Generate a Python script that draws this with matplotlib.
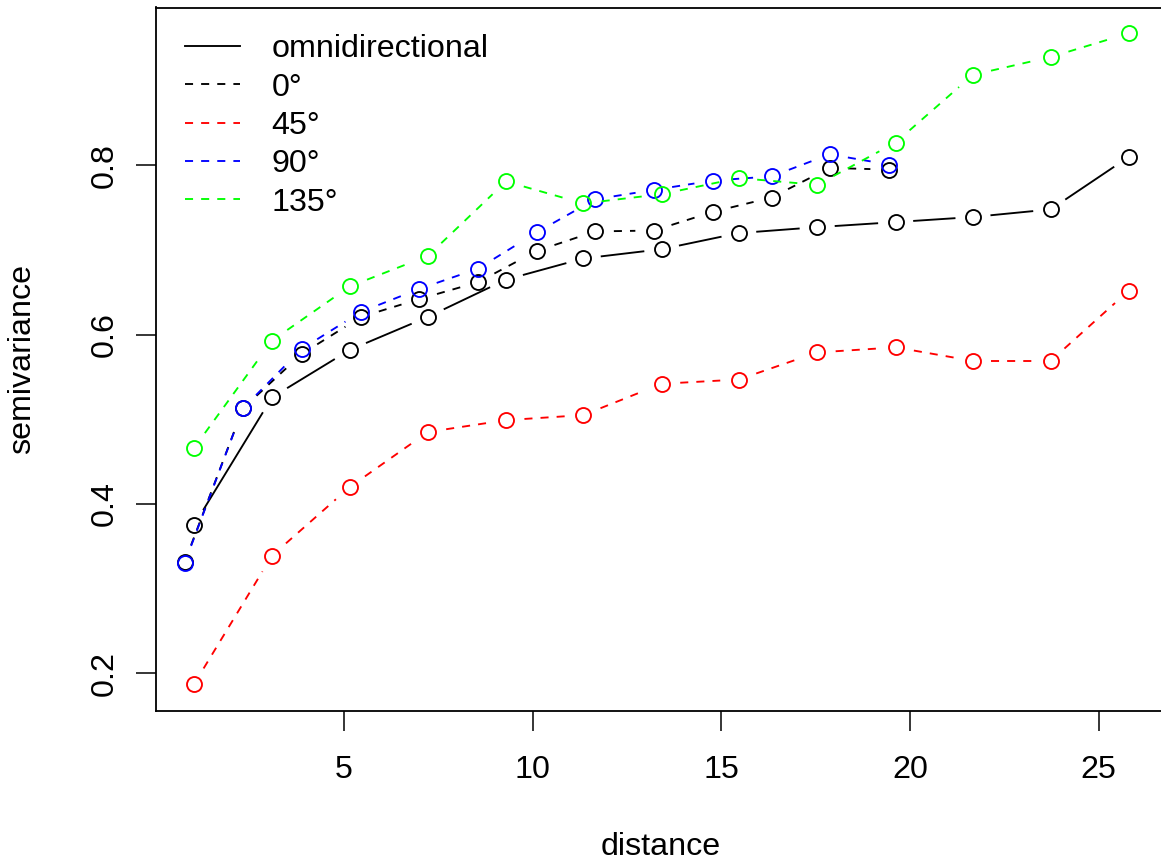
import numpy as np
import matplotlib.pyplot as plt
from matplotlib.lines import Line2D

# omnidirectional lags (also used by 45 and 135 degree)
omni_dist = [1.02, 3.09, 5.15, 7.22, 9.29, 11.34, 13.42, 15.46, 17.54, 19.62, 21.67, 23.73, 25.80]
omni_gamma = [0.375, 0.526, 0.582, 0.621, 0.665, 0.690, 0.701, 0.720, 0.727, 0.733, 0.739, 0.748, 0.810]

# lags for 0 and 90 degree
dir_dist = [0.77, 2.32, 3.87, 5.45, 6.99, 8.55, 10.11, 11.66, 13.21, 14.77, 16.33, 17.87, 19.44]
gamma_0 = [0.331, 0.513, 0.577, 0.621, 0.642, 0.662, 0.699, 0.722, 0.723, 0.745, 0.762, 0.797, 0.795]
gamma_90 = [0.330, 0.513, 0.583, 0.627, 0.654, 0.678, 0.721, 0.760, 0.771, 0.782, 0.787, 0.813, 0.801]

gamma_45 = [0.187, 0.339, 0.420, 0.485, 0.499, 0.505, 0.542, 0.547, 0.579, 0.585, 0.569, 0.569, 0.652]
gamma_135 = [0.466, 0.593, 0.657, 0.693, 0.781, 0.755, 0.766, 0.785, 0.777, 0.827, 0.907, 0.928, 0.956]

labels = ["omnidirectional", "0°", "45°", "90°", "135°"]
colors = ["black", "black", "#ff0000", "#0000ff", "#00ff00"]

plt.rcParams['font.family'] = ['Liberation Sans', 'DejaVu Sans']
plt.rcParams['font.size'] = 23.2

LW = 1.35
DASH = (4.3, 4.3)
GAP = 18.5  # px gap between line ends and circle centres (R type="b")

fig = plt.figure(figsize=(11.61, 8.6), dpi=100)
ax = fig.add_axes([156/1161, 149.5/860, 1009/1161, 703/860])
ax.set_xlim(0.013, 26.76)
ax.set_ylim(0.156, 0.9865)


def draw_b(x, y, col, dashed):
    pts = ax.transData.transform(np.column_stack([x, y]))
    inv = ax.transData.inverted()
    for p0, p1 in zip(pts[:-1], pts[1:]):
        d = p1 - p0
        L = np.hypot(*d)
        if L <= 2*GAP:
            continue
        a = inv.transform(p0 + d/L*GAP)
        b = inv.transform(p1 - d/L*GAP)
        ln, = ax.plot([a[0], b[0]], [a[1], b[1]], color=col, lw=LW)
        if dashed:
            ln.set_dashes(DASH)
    ax.plot(x, y, 'o', ls='none', mfc='none', mec=col, ms=10.8, mew=1.35)


draw_b(omni_dist, omni_gamma, colors[0], False)
draw_b(dir_dist, gamma_0, colors[1], True)
draw_b(omni_dist, gamma_45, colors[2], True)
draw_b(dir_dist, gamma_90, colors[3], True)
draw_b(omni_dist, gamma_135, colors[4], True)

handles = []
for i, c in enumerate(colors):
    h = Line2D([], [], color=c, lw=LW)
    if i > 0:
        h.set_dashes(DASH)
    handles.append(h)
ax.legend(handles, labels, loc='upper left', bbox_to_anchor=(0.0287, 0.962),
          frameon=False, handlelength=1.7, handletextpad=0.99,
          labelspacing=0.26, borderpad=0, borderaxespad=0)

ax.set_xticks([5, 10, 15, 20, 25])
ax.set_yticks([0.2, 0.4, 0.6, 0.8])
ax.set_yticklabels(["0.2", "0.4", "0.6", "0.8"], rotation=90, va='center')
ax.tick_params(axis='both', length=14.4, width=1.1)
ax.tick_params(axis='x', pad=18)
ax.tick_params(axis='y', pad=12)
for s in ax.spines.values():
    s.set_linewidth(1.3)

ax.set_xlabel("distance")
ax.set_ylabel("semivariance")
ax.xaxis.set_label_coords(0.5, -0.1728)
ax.yaxis.set_label_coords(-0.118, 0.5)

fig.savefig("out.png", dpi=100)
